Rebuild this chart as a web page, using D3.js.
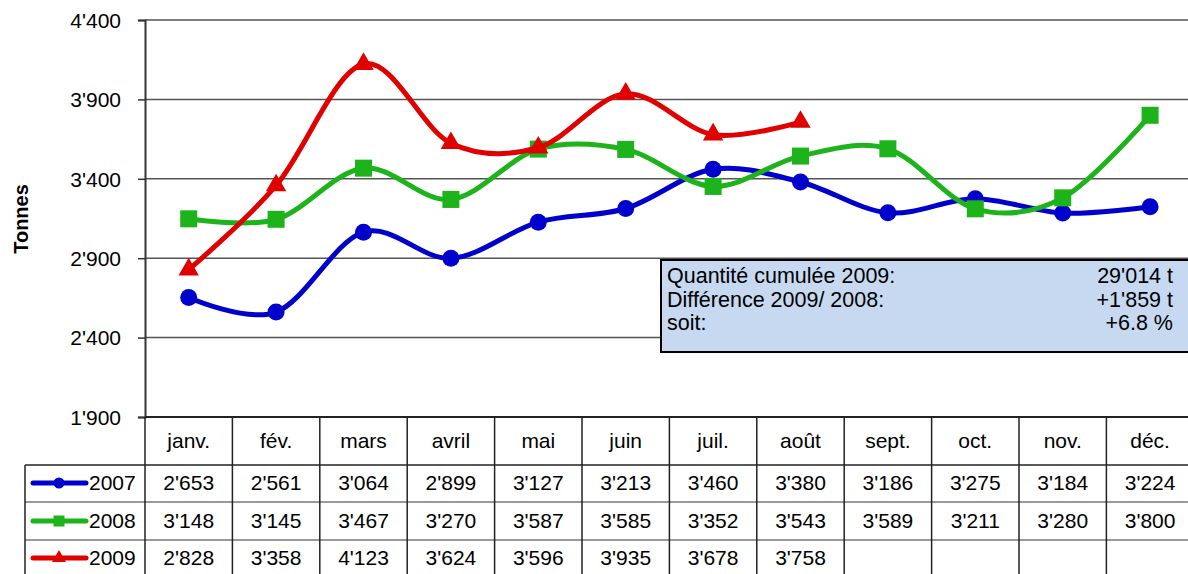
<!DOCTYPE html>
<html><head><meta charset="utf-8">
<script src="https://cdn.jsdelivr.net/npm/d3@7"></script>
<style>body{margin:0;background:#fff}svg{display:block;font-family:"Liberation Sans",Arial,sans-serif}</style>
</head><body><svg id="c" width="1188" height="574"></svg>
<script>
const months = ["janv.","fév.","mars","avril","mai","juin","juil.","août","sept.","oct.","nov.","déc."];
const s2007 = [2653,2561,3064,2899,3127,3213,3460,3380,3186,3275,3184,3224];
const s2008 = [3148,3145,3467,3270,3587,3585,3352,3543,3589,3211,3280,3800];
const s2009 = [2828,3358,4123,3624,3596,3935,3678,3758];
const yTicks = [1900,2400,2900,3400,3900,4400];
const infoLabels = ["Quantité cumulée 2009:","Différence 2009/ 2008:","soit:"];
const infoValues = ["29'014 t","+1'859 t","+6.8 %"];

const series = [
  {name:"2007", values:s2007, color:"#0000cc", shape:"circle"},
  {name:"2008", values:s2008, color:"#1db31a", shape:"square"},
  {name:"2009", values:s2009, color:"#e00000", shape:"triangle"}
];

const FS = 21;
const fmt = d3.formatLocale({decimal:".",thousands:"'",grouping:[3],currency:["",""]}).format(",d");
const svg = d3.select("#c");
const pLeft = 145, pTop = 20, pBottom = 417, step = 87.4;
const x = d3.scaleBand().domain(months).range([pLeft, pLeft + step*12]).padding(0);
const y = d3.scaleLinear().domain([1900,4400]).range([pBottom, pTop]);
const cx = m => x(m) + x.bandwidth()/2;

// gridlines
svg.append("g").selectAll("line").data(yTicks.filter(t=>t>1900)).join("line")
  .attr("x1", pLeft).attr("x2", 1188).attr("y1", d=>y(d)).attr("y2", d=>y(d))
  .attr("stroke","#555").attr("stroke-width",1.5);

// y axis
const ya = svg.append("g").attr("transform",`translate(${pLeft},0)`)
  .call(d3.axisLeft(y).tickValues(yTicks).tickFormat(fmt).tickSize(7).tickPadding(17));
ya.select(".domain").attr("stroke","#333").attr("stroke-width",2);
ya.selectAll(".tick line").attr("stroke","#333").attr("stroke-width",1.5);
ya.selectAll(".tick text").attr("font-size",FS).attr("fill","#000").attr("font-family","Liberation Sans, Arial, sans-serif").attr("dy","0.35em");

svg.append("text").attr("transform",`translate(28,219) rotate(-90)`)
  .attr("text-anchor","middle").attr("font-size",20).attr("font-weight","bold").text("Tonnes");

// info box
const bx = 661, by = 260, bw = 540, bh = 92;
svg.append("rect").attr("x",bx).attr("y",by).attr("width",bw).attr("height",bh)
  .attr("fill","#c6d9f0").attr("stroke","#000").attr("stroke-width",2);
infoLabels.forEach((t,i)=>{
  svg.append("text").attr("x",bx+6).attr("y",by+23+i*23.5).attr("font-size",FS+0.5).text(t);
  svg.append("text").attr("x",1173).attr("y",by+23+i*23.5).attr("font-size",FS+0.5).attr("text-anchor","end").text(infoValues[i]);
});

// lines
const line = d3.line().x((d,i)=>cx(months[i])).y(d=>y(d)).curve(d3.curveCardinal.tension(0));
function marker(g, shape, color, size){
  if(shape==="circle") g.append("circle").attr("r",size*0.5).attr("fill",color);
  else if(shape==="square") g.append("rect").attr("x",-size/2).attr("y",-size/2).attr("width",size).attr("height",size).attr("fill",color);
  else g.append("path").attr("d",d3.symbol(d3.symbolTriangle, size*size*0.5)()).attr("fill",color);
}
series.forEach(s=>{
  svg.append("path").attr("d",line(s.values)).attr("fill","none").attr("stroke",s.color).attr("stroke-width",5);
  s.values.forEach((v,i)=>{
    const g = svg.append("g").attr("transform",`translate(${cx(months[i])},${y(v)})`);
    marker(g, s.shape, s.color, s.shape==="circle"?17:(s.shape==="square"?17:19));
  });
});

// data table
const rowCenters = [483,521,558];
const tb = svg.append("g");
tb.append("line").attr("x1",pLeft).attr("x2",1188).attr("y1",417).attr("y2",417).attr("stroke","#222").attr("stroke-width",2);
[465,502,540].forEach((yy,i)=>{
  tb.append("line").attr("x1",25).attr("x2",1188).attr("y1",yy).attr("y2",yy).attr("stroke",i===0?"#222":"#777").attr("stroke-width",1.5);
});
d3.range(13).forEach(i=>{
  const xx = pLeft + i*step;
  tb.append("line").attr("x1",xx).attr("x2",xx).attr("y1",417).attr("y2",574).attr("stroke","#222").attr("stroke-width",1.5);
});
tb.append("line").attr("x1",25).attr("x2",25).attr("y1",465).attr("y2",574).attr("stroke","#222").attr("stroke-width",1.5);
tb.selectAll("text.h").data(months).join("text").attr("class","h")
  .attr("x",d=>cx(d)).attr("y",441).attr("dy","0.35em").attr("text-anchor","middle").attr("font-size",FS).text(d=>d);
series.forEach((s,r)=>{
  const yc = rowCenters[r];
  tb.append("line").attr("x1",33).attr("x2",86).attr("y1",yc).attr("y2",yc).attr("stroke",s.color).attr("stroke-width",5).attr("stroke-linecap","round");
  const g = tb.append("g").attr("transform",`translate(59,${yc})`);
  marker(g, s.shape, s.color, s.shape==="circle"?11:(s.shape==="square"?11:13));
  tb.append("text").attr("x",89).attr("y",yc).attr("dy","0.35em").attr("font-size",FS).text(s.name);
  s.values.forEach((v,i)=>{
    tb.append("text").attr("x",cx(months[i])).attr("y",yc).attr("dy","0.35em").attr("text-anchor","middle").attr("font-size",FS).text(fmt(v));
  });
});
</script></body></html>
